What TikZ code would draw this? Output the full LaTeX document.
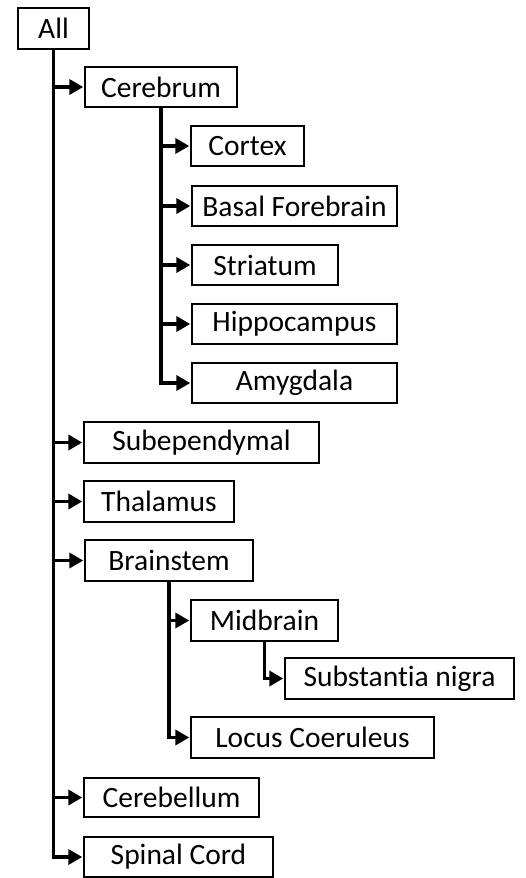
\documentclass[tikz,border=0pt]{standalone}
\usepackage{fontspec}
\setmainfont{Carlito}[Ligatures=NoCommon]
\usetikzlibrary{arrows.meta}
\begin{document}
\begin{tikzpicture}[x=1bp,y=-1bp,
  box/.style={draw=black, line width=2.2bp, fill=white, inner sep=0pt,
    font=\fontsize{29.5bp}{31bp}\selectfont},
  conn/.style={line width=3.6bp, line join=miter,
    -{Triangle[length=14bp,width=15bp]}, shorten >=0.6bp}
]
\useasboundingbox (0,0) rectangle (526,878);
\newcommand{\bx}[6]{%
  \pgfmathsetmacro{\bxw}{#4-#2}%
  \pgfmathsetmacro{\bxh}{#5-#3}%
  \pgfmathsetmacro{\bxcx}{(#2+#4)/2}%
  \pgfmathsetmacro{\bxcy}{(#3+#5)/2}%
  \node[box, minimum width=\bxw bp, minimum height=\bxh bp]
    (#1) at (\bxcx,\bxcy) {#6};}
\bx{all}{18}{8}{89}{49}{All}
\bx{cerebrum}{85}{67}{237}{107}{Cerebrum}
\bx{cortex}{191}{126}{304}{166}{Cortex}
\bx{basal}{192}{186}{397}{226}{Basal Forebrain}
\bx{striatum}{192}{245}{338}{285}{Striatum}
\bx{hippo}{192}{304}{397}{344}{Hippocampus}
\bx{amyg}{192}{363}{397}{403}{Amygdala}
\bx{subep}{84}{422}{319}{463}{Subependymal}
\bx{thal}{84}{481}{234}{522}{Thalamus}
\bx{brainstem}{85}{540}{253}{581}{Brainstem}
\bx{midbrain}{191}{600}{338}{641}{Midbrain}
\bx{nigra}{285}{658}{514}{699}{Substantia nigra}
\bx{locus}{191}{717}{434}{758}{Locus Coeruleus}
\bx{cerebellum}{84}{778}{259}{817}{Cerebellum}
\bx{spinal}{84}{837}{273}{877}{Spinal Cord}

\foreach \c in {cerebrum,subep,thal,brainstem,cerebellum,spinal}
  \draw[conn] (all.south) |- (\c.west);
\foreach \c in {cortex,basal,striatum,hippo,amyg}
  \draw[conn] (cerebrum.south) |- (\c.west);
\foreach \c in {midbrain,locus}
  \draw[conn] (brainstem.south) |- (\c.west);
\draw[conn] (midbrain.south) |- (nigra.west);
\end{tikzpicture}
\end{document}
